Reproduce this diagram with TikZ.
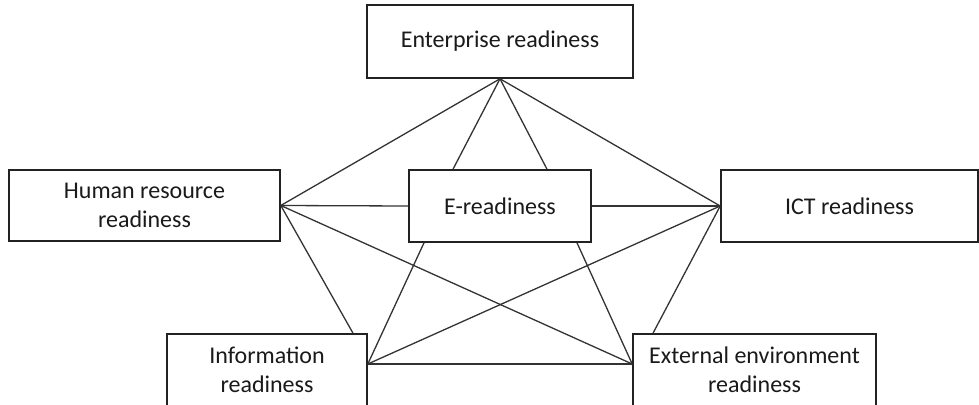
\documentclass[tikz,border=0pt]{standalone}
\usepackage{fontspec}
\setmainfont{Carlito}
\usetikzlibrary{calc}
\definecolor{boxline}{HTML}{222222}
\definecolor{conn}{HTML}{333333}
\definecolor{txt}{HTML}{1A1A1A}
\begin{document}
\begin{tikzpicture}[x=1pt,y=-1pt,
  box/.style={draw=boxline, line width=1.6pt, fill=white, align=center, inner sep=0pt,
    font=\fontsize{24}{29.5}\selectfont, text=txt},
  link/.style={draw=conn, line width=1.3pt}]
\useasboundingbox (0,0) rectangle (979,404);
\clip (0,0) rectangle (979,404);
% nodes
\node[box, minimum width=266pt, minimum height=73pt] (ent) at (500,41.5) {Enterprise readiness};
\node[box, minimum width=271pt, minimum height=71pt] (hr) at (144.5,205.5) {Human resource\\readiness};
\node[box, minimum width=182pt, minimum height=72pt] (er) at (500,206) {E-readiness};
\node[box, minimum width=257pt, minimum height=72pt] (ict) at (849.5,206) {ICT readiness};
\node[box, minimum width=200pt, minimum height=72pt] (info) at (267,370) {Information\\readiness};
\node[box, minimum width=243pt, minimum height=72pt] (ext) at (754.5,370) {External environment\\readiness};
% connection points
\coordinate (erTL) at ($(er.north)+(-47,0)$);
\coordinate (erTR) at ($(er.north)+(47,0)$);
\coordinate (erBL) at ($(er.south)+(-76,0)$);
\coordinate (erBR) at ($(er.south)+(77,0)$);
\coordinate (infoT) at ($(info.north)+(86,0)$);
\coordinate (infoR) at ($(info.east)+(0,-6)$);
\coordinate (extL) at ($(ext.west)+(0,-6)$);
\coordinate (extT) at ($(ext.north)+(-101.5,0)$);
% connectors
\draw[link] (ent.south) -- (hr.east);
\draw[link] (ent.south) -- (ict.west);
\draw[link] (ent.south) -- (erTL);
\draw[link] (ent.south) -- (erTR);
\draw[link] (hr.east) -- (er.west);
\draw[link] (hr.east) -- (infoT);
\draw[link] (hr.east) -- (extL);
\draw[link] (ict.west) -- (er.east);
\draw[link] (ict.west) -- (infoR);
\draw[link] (ict.west) -- (extT);
\draw[link] (erBL) -- (infoR);
\draw[link] (erBR) -- (extL);
\draw[link] (infoR) -- (extL);
\end{tikzpicture}
\end{document}
